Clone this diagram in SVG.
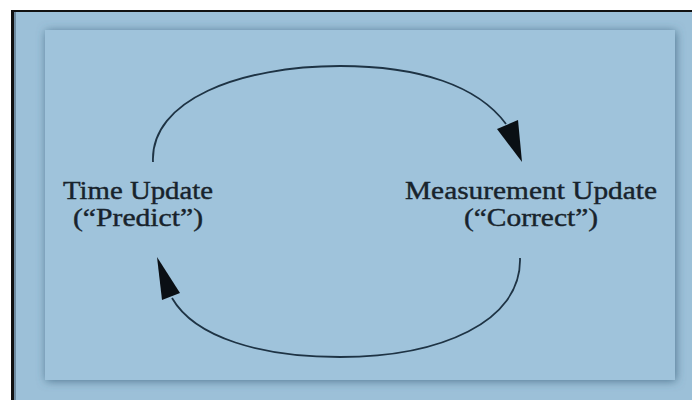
<svg xmlns="http://www.w3.org/2000/svg" width="692" height="400" viewBox="0 0 692 400">
<defs>
<filter id="sh" x="-10%" y="-10%" width="120%" height="120%">
<feGaussianBlur in="SourceAlpha" stdDeviation="5"/>
<feOffset dx="1" dy="1" result="b"/>
<feFlood flood-color="#3e6580" flood-opacity="0.8"/>
<feComposite in2="b" operator="in"/>
<feMerge><feMergeNode/><feMergeNode in="SourceGraphic"/></feMerge>
</filter>
<style>
.lbl{font-family:"Liberation Serif","Times New Roman",serif;font-size:25px;fill:#18232c;stroke:#18232c;stroke-width:0.4;text-anchor:middle}
.arc{fill:none;stroke:#1e3344;stroke-width:1.8}
.head{fill:#0a0f14}
</style>
</defs>
<rect x="0" y="0" width="692" height="400" fill="#ffffff"/>
<rect x="11" y="10" width="681" height="390" fill="#111111"/>
<rect x="14" y="12" width="678" height="388" fill="#9cc0d8"/>
<rect x="14" y="12" width="2" height="388" fill="#6d8aa0"/>
<rect id="panel" x="45" y="30" width="630" height="350" fill="#9fc3db" filter="url(#sh)"/>
<g id="connectors">
<path class="arc" d="M153,162 C150,100 240,66 340,66 C420,66 478,86 506,124"/>
<polygon class="head" points="497,129 518,120 522,162"/>
<path class="arc" d="M520,258 C522,322 440,357 340,357 C262,357 195,338 172,298"/>
<polygon class="head" points="157,257 180,293 162,300"/>
</g>
<g id="time-update">
<text class="lbl" x="138" y="199" textLength="150" lengthAdjust="spacingAndGlyphs">Time Update</text>
<text class="lbl" x="138" y="226" textLength="130" lengthAdjust="spacingAndGlyphs">(“Predict”)</text>
</g>
<g id="measurement-update">
<text class="lbl" x="531" y="199" textLength="252" lengthAdjust="spacingAndGlyphs">Measurement Update</text>
<text class="lbl" x="531" y="226" textLength="134" lengthAdjust="spacingAndGlyphs">(“Correct”)</text>
</g>
</svg>
